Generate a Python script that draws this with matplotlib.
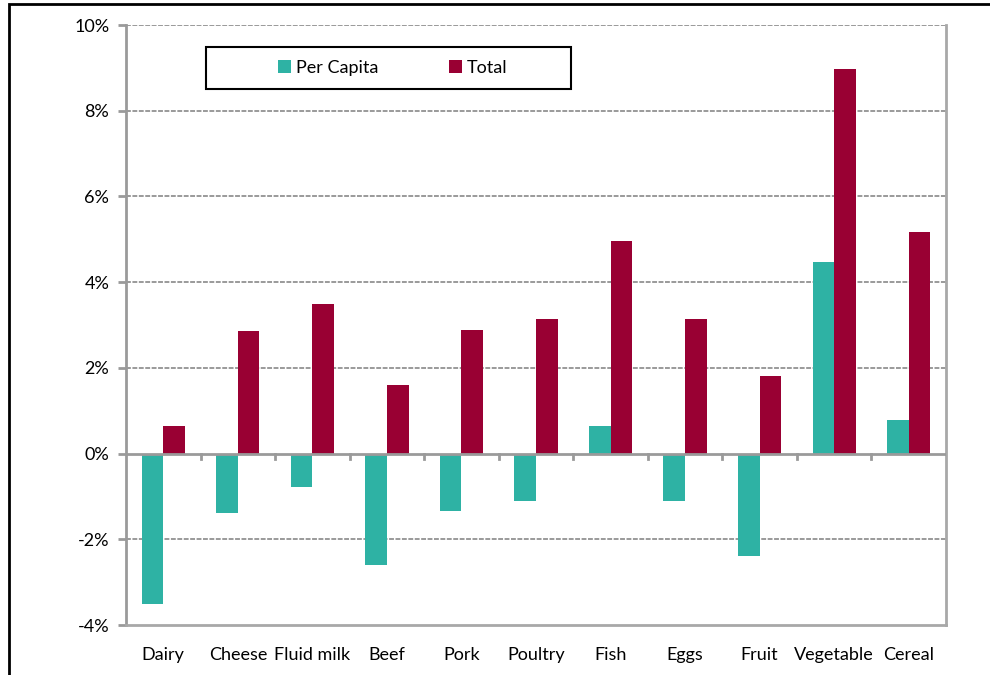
import numpy as np
import matplotlib.pyplot as plt
from matplotlib.patches import Rectangle

plt.rcParams['font.family'] = ['Lato', 'DejaVu Sans']

# Percent change in food consumption
categories = ['Dairy', 'Cheese', 'Fluid milk', 'Beef', 'Pork', 'Poultry',
              'Fish', 'Eggs', 'Fruit', 'Vegetable', 'Cereal']
per_capita = [-3.50, -1.38, -0.79, -2.59, -1.35, -1.10, 0.65, -1.10, -2.38, 4.48, 0.79]
total = [0.65, 2.87, 3.48, 1.61, 2.89, 3.13, 4.97, 3.13, 1.82, 8.98, 5.16]
yticks = [-4, -2, 0, 2, 4, 6, 8, 10]

teal = '#2EB2A4'
crimson = '#990033'
grid_gray = '#9a9a9a'
fs = 13

fig = plt.figure(figsize=(9.9, 6.75), dpi=100)
ax = fig.add_axes([126 / 990, 1 - 625 / 675, 820 / 990, 600 / 675])

x = np.arange(len(categories))
w = 0.29
ax.bar(x - w / 2, per_capita, w, color=teal, label='Per Capita', zorder=3)
ax.bar(x + w / 2, total, w, color=crimson, label='Total', zorder=3)

ax.set_xlim(-0.5, len(categories) - 0.5)
ax.set_ylim(-4, 10)
ax.set_yticks(yticks)
ax.set_yticklabels([f'{v}%' for v in yticks], fontsize=fs)

# dashed gridlines, solid zero line
for v in yticks:
    if v in (0, -4):
        continue
    ax.axhline(v, color=grid_gray, lw=1.4, ls=(0, (2.5, 0.8)), zorder=1)
ax.axhline(0, color=grid_gray, lw=2, zorder=4)

# category ticks hang from the zero line
for b in np.arange(0.5, len(categories) - 1, 1.0):
    ax.plot([b, b], [0, -0.12], color=grid_gray, lw=2, zorder=4, clip_on=False)

ax.set_xticks(x)
ax.set_xticklabels(categories, fontsize=fs)
ax.tick_params(axis='x', length=0, pad=16)
ax.tick_params(axis='y', length=6, width=2, color=grid_gray, pad=6)

for side in ('left', 'right', 'bottom'):
    ax.spines[side].set_color('#a8a8a8')
    ax.spines[side].set_linewidth(2)
ax.spines['left'].set_color(grid_gray)
ax.spines['top'].set_visible(False)

# legend box drawn separately so its size is fixed
ax.add_patch(Rectangle((206 / 990, 1 - 89 / 675), 365 / 990, 42 / 675,
                       transform=fig.transFigure, fill=True, facecolor='white',
                       edgecolor='black', lw=1.5, zorder=5))
leg = ax.legend(loc='center', bbox_to_anchor=(393 / 990, 1 - 68 / 675),
                bbox_transform=fig.transFigure, ncol=2, fontsize=fs,
                frameon=False, handlelength=0.7, handleheight=0.7,
                handletextpad=0.3, columnspacing=3.9)
leg.set_zorder(6)

# outer frame around the figure
fig.patches.append(Rectangle((9 / 990, -0.1), 1.2, 1 - 4 / 675 + 0.1,
                             transform=fig.transFigure, fill=False,
                             edgecolor='black', lw=2))

fig.savefig('out.png', dpi=100)
